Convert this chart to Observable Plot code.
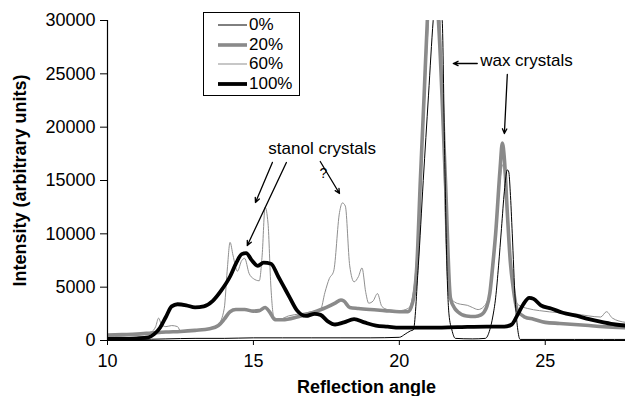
<!DOCTYPE html>
<html><head><meta charset="utf-8">
<script src="https://cdn.jsdelivr.net/npm/d3@7"></script>
<script src="https://cdn.jsdelivr.net/npm/@observablehq/plot@0.6"></script>
<style>
body{margin:0;background:#fff;font-family:"Liberation Sans",Arial,sans-serif;}
#wrap{position:relative;width:625px;height:396px;overflow:hidden;}
#legend{position:absolute;left:203px;top:12px;width:95px;height:82px;border:1px solid #000;background:#fff;}
.row{position:absolute;left:0;height:20px;width:95px;}
.row svg{position:absolute;left:14px;top:0;}
.row span{position:absolute;left:45px;top:0;line-height:20px;font-size:17px;color:#000;}
</style></head><body><div id="wrap"></div>
<script>
// ---- data ----
const seriesNames = ["0%", "20%", "60%", "100%"];
const seriesColors = ["#000000", "#8a8a8a", "#8f8f8f", "#000000"];
const seriesWidths = [1, 3.6, 1, 3.8];

const angle0 = [10, 11, 12, 13, 14, 15, 16, 17, 18, 19, 20, 20.2, 20.38, 20.48, 20.65, 20.82, 21.0, 21.16, 21.3, 21.47, 21.55, 21.62, 21.7, 21.8, 21.92, 22.5, 22.95, 23.1, 23.2, 23.3, 23.4, 23.5, 23.6, 23.7, 23.75, 23.8, 23.87, 23.97, 24.05, 24.14, 25, 26, 27, 27.75];
const int0 = [100, 100, 150, 200, 200, 250, 250, 250, 250, 250, 300, 600, 900, 1000, 7000, 15000, 23000, 30000, 34000, 30000, 18000, 8000, 2500, 1000, 200, 150, 200, 1000, 2200, 4000, 7000, 10500, 14000, 16000, 15800, 14000, 10000, 3800, 1200, 100, 100, 100, 100, 100];

const angle20 = [10, 10.5, 11, 11.5, 12, 12.5, 13, 13.5, 13.8, 14.0, 14.2, 14.4, 14.7, 15.0, 15.2, 15.4, 15.55, 15.75, 16.0, 16.5, 17.0, 17.5, 17.8, 18.0, 18.1, 18.3, 18.6, 19.0, 19.5, 20.0, 20.3, 20.45, 20.6, 20.72, 20.85, 20.96, 21.15, 21.34, 21.58, 21.75, 21.9, 22.0, 22.3, 22.6, 22.8, 23.0, 23.1, 23.2, 23.3, 23.45, 23.53, 23.6, 23.7, 23.8, 23.9, 24.05, 24.3, 24.6, 25.0, 25.5, 26.0, 26.5, 27.0, 27.75];
const int20 = [500, 550, 600, 700, 800, 850, 950, 1100, 1400, 2000, 2700, 2900, 2900, 2750, 2800, 3100, 2700, 1950, 1950, 2200, 2600, 3100, 3500, 3800, 3700, 3100, 3000, 2900, 2800, 2700, 2700, 3500, 7000, 15000, 23000, 30000, 35000, 30000, 15000, 4000, 3000, 2700, 2300, 2250, 2400, 3200, 4400, 7000, 10000, 16000, 18500, 17000, 12000, 7500, 5000, 2800, 2200, 2000, 1700, 1600, 1500, 1400, 1300, 1200];

const angle60 = [10, 10.5, 11, 11.5, 11.65, 11.75, 11.85, 12.0, 12.2, 12.4, 12.5, 13.0, 13.5, 13.8, 14.0, 14.1, 14.2, 14.3, 14.45, 14.6, 14.7, 14.85, 15.0, 15.2, 15.3, 15.4, 15.5, 15.6, 15.7, 15.9, 16.2, 16.6, 17.0, 17.3, 17.45, 17.6, 17.75, 17.95, 18.05, 18.15, 18.3, 18.45, 18.6, 18.72, 18.85, 18.95, 19.1, 19.25, 19.4, 19.6, 20.0, 20.3, 20.45, 20.6, 20.75, 20.9, 21.0, 21.15, 21.3, 21.4, 21.5, 21.6, 21.7, 21.9, 22.1, 22.33, 22.5, 22.7, 22.9, 23.1, 23.3, 23.45, 23.55, 23.65, 23.8, 23.95, 24.1, 24.4, 24.8, 25.5, 26.0, 26.5, 26.9, 27.1, 27.3, 27.75];
const int60 = [350, 400, 500, 800, 1300, 2100, 1500, 1300, 1400, 1300, 900, 1000, 1100, 1500, 3000, 6500, 9200, 8000, 6500, 7500, 7700, 6300, 5800, 5600, 8000, 12500, 11000, 5000, 2200, 2000, 2300, 2500, 2700, 2900, 4500, 5800, 6500, 12000, 12900, 12600, 7000, 5500, 6000, 6800, 4500, 3500, 3700, 4400, 3200, 2900, 2800, 3000, 4000, 8000, 16000, 25000, 30000, 35000, 35000, 30000, 20000, 9000, 4200, 3600, 3400, 3300, 3100, 2900, 3200, 4500, 10000, 15000, 16500, 14000, 8000, 4000, 3300, 3000, 2800, 2600, 2500, 2300, 2200, 2700, 2100, 1700];

const angle100 = [10, 10.5, 11, 11.4, 11.6, 11.8, 12.0, 12.2, 12.4, 12.7, 13.0, 13.3, 13.6, 13.9, 14.2, 14.4, 14.6, 14.75, 14.95, 15.15, 15.35, 15.6, 15.85, 16.05, 16.25, 16.5, 16.8, 17.1, 17.3, 17.55, 17.8, 18.1, 18.45, 18.8, 19.2, 19.6, 20.0, 21.0, 22.0, 23.0, 23.6, 23.85, 24.05, 24.25, 24.45, 24.6, 24.85, 25.2, 25.6, 26.1, 26.5, 27.0, 27.4, 27.75];
const int100 = [150, 150, 200, 300, 600, 1200, 2200, 3200, 3400, 3300, 3100, 3200, 3700, 4700, 6000, 7200, 8100, 8200, 7500, 7000, 7300, 7200, 6000, 5000, 4000, 2800, 2300, 2500, 2400, 1800, 1500, 1700, 2000, 1700, 1400, 1300, 1200, 1200, 1250, 1300, 1300, 1500, 2400, 3400, 4000, 3900, 3300, 3000, 2600, 2300, 2000, 1700, 1500, 1400];

const yTicks = [0, 5000, 10000, 15000, 20000, 25000, 30000];
const xTicks = [10, 15, 20, 25];

// annotations
const noteTexts = ["stanol crystals", "wax crystals"];
const noteX = [15.51, 22.77];
const noteY = [18000, 26250];
const arrowX1 = [15.65, 16.13, 17.29, 22.67, 23.7];
const arrowY1 = [16690, 16690, 16780, 25970, 24940];
const arrowX2 = [15.07, 14.79, 17.95, 21.85, 23.6];
const arrowY2 = [12940, 8900, 13780, 25970, 19400];
const qX = [17.4];
const qY = [15700];

// ---- build ----
const allAngles = [angle0, angle20, angle60, angle100];
const allInts = [int0, int20, int60, int100];
const rows = [];
seriesNames.forEach((name, i) => {
  allAngles[i].forEach((a, j) => rows.push({series: name, angle: a, intensity: allInts[i][j]}));
});
const drawOrder = ["20%", "60%", "100%", "0%"];
const lineMarks = drawOrder.map(name => {
  const i = seriesNames.indexOf(name);
  return Plot.line(rows.filter(r => r.series === name), {
    x: "angle", y: "intensity", stroke: seriesColors[i], strokeWidth: seriesWidths[i],
    curve: "monotone-x", clip: true, strokeLinejoin: "round"
  });
});
const notes = noteTexts.map((t, i) => ({t, x: noteX[i], y: noteY[i]}));
const arrows = arrowX1.map((x, i) => ({x1: x, y1: arrowY1[i], x2: arrowX2[i], y2: arrowY2[i]}));

const chart = Plot.plot({
  width: 625, height: 396,
  marginLeft: 107, marginRight: 0, marginTop: 20, marginBottom: 56,
  style: {fontFamily: "'Liberation Sans', Arial, sans-serif", fontSize: "18px", color: "#000", background: "#fff"},
  x: {domain: [10, 27.75]},
  y: {domain: [0, 30000]},
  marks: [
    ...lineMarks,
    Plot.ruleX([10], {stroke: "#000", strokeWidth: 1.2}),
    Plot.ruleY([0], {stroke: "#000", strokeWidth: 1.2}),
    Plot.axisY({ticks: yTicks, tickSize: 7, tickPadding: 5, tickFormat: d => String(d), label: null, fontSize: 18}),
    Plot.axisX({ticks: xTicks, tickSize: 5, tickPadding: 9, tickFormat: d => String(d), label: null, fontSize: 18}),
    Plot.text(["Reflection angle"], {frameAnchor: "bottom", dy: 47, lineAnchor: "middle", textAnchor: "middle", fontWeight: "bold", fontSize: 18}),
    Plot.text(["Intensity (arbitrary units)"], {frameAnchor: "left", dx: -87, rotate: -90, lineAnchor: "middle", textAnchor: "middle", fontWeight: "bold", fontSize: 18}),
    Plot.text(notes, {x: "x", y: "y", text: "t", textAnchor: "start", lineAnchor: "middle", fontSize: 17}),
    Plot.text(qX.map((x, i) => ({x, y: qY[i]})), {x: "x", y: "y", text: d => "?", fontSize: 14, lineAnchor: "middle"}),
    Plot.arrow(arrows, {x1: "x1", y1: "y1", x2: "x2", y2: "y2", stroke: "#000", strokeWidth: 1.3, headLength: 6, headAngle: 50})
  ]
});
const wrap = document.getElementById("wrap");
wrap.appendChild(chart);

// legend
const legend = document.createElement("div");
legend.id = "legend";
const rowTops = [2, 22, 41, 61];
seriesNames.forEach((name, i) => {
  const r = document.createElement("div");
  r.className = "row";
  r.style.top = rowTops[i] + "px";
  r.innerHTML = `<svg width="30" height="20"><line x1="0" x2="29" y1="10" y2="10" stroke="${seriesColors[i]}" stroke-width="${seriesWidths[i]}"/></svg><span>${name}</span>`;
  legend.appendChild(r);
});
wrap.appendChild(legend);
</script>
</body></html>
